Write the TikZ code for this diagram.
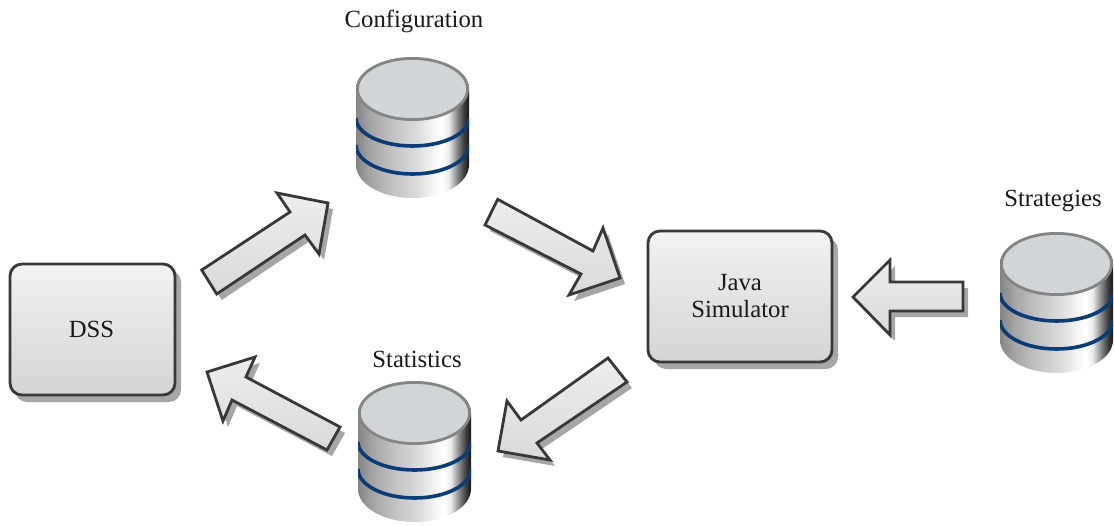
\documentclass[tikz,border=0pt]{standalone}
\usepackage{fontspec}
\setmainfont{Liberation Serif}
\usetikzlibrary{calc}
\definecolor{bandblue}{HTML}{0A3D78}
\definecolor{captop}{HTML}{D3D4D6}
\pgfdeclareverticalshading{boxshade}{100bp}{color(0bp)=(black!17);color(25bp)=(black!17);color(75bp)=(black!5);color(100bp)=(black!5)}
\pgfdeclareverticalshading{arrowshade}{100bp}{color(0bp)=(black!15);color(25bp)=(black!15);color(75bp)=(black!7);color(100bp)=(black!7)}
\pgfdeclarehorizontalshading{cylshade}{100bp}{
 color(0bp)=(black!48);color(25bp)=(black!48);color(31bp)=(black!36);color(40bp)=(black!25);color(52bp)=(black!14);
 color(60bp)=(black!3);color(63bp)=(white);color(66bp)=(black!8);color(70bp)=(black!50);color(73bp)=(black!78);color(75bp)=(black!90);color(100bp)=(black!90)}
\tikzset{
 x=1pt,y=-1pt,
 boxstyle/.style={draw=black!78,line width=2.8pt,rounded corners=12pt,shading=boxshade},
 boxshadow/.style={fill=black!35,draw=none,rounded corners=12pt},
 arrowbody/.style={draw=black!78,line width=2.8pt,line join=miter,shading=arrowshade},
 arrowshadow/.style={fill=black!35,draw=none},
 label/.style={font=\fontsize{24.7}{27}\selectfont,inner sep=0pt,align=center,text=black!90},
 band/.style={draw=bandblue,line width=3.6pt},
}
\newcommand{\dbcyl}[3]{%
 \begin{scope}[shift={(#1,#2)}]
  \path[shading=cylshade] (-56.5,0) arc[start angle=180,end angle=360,x radius=56.5,y radius=32]
     -- (56.5,76) arc[start angle=0,end angle=180,x radius=56.5,y radius=33] -- cycle;
  \begin{scope}
   \clip (-56.5,0) rectangle (56.5,120);
   \draw[band] (-56.5,29) arc[start angle=180,end angle=0,x radius=56.5,y radius=28];
   \draw[band] (-56.5,56) arc[start angle=180,end angle=0,x radius=56.5,y radius=29];
  \end{scope}
  \draw[draw=black!48,fill=captop,line width=2.8pt] (0,0) ellipse[x radius=55.1,y radius=30.6];
  \node[inner sep=0pt] (#3) at (0,0) {};
 \end{scope}}
\newcommand{\blockarrow}[2]{%
 \path[arrowshadow,shift={(5,6)}] #2 -- cycle;
 \path[arrowbody] #2 -- cycle;
 \coordinate (#1) at (0,0);}
\begin{document}
\begin{tikzpicture}
\useasboundingbox (0,0) rectangle (1114,525);
% boxes
\path[boxshadow] (15,270) rectangle (181,402);
\path[boxstyle] (10,264) rectangle (175,395);
\node[label] (dss) at (91.5,329) {DSS};
\path[boxshadow] (654,238) rectangle (838,369);
\path[boxstyle] (648,231) rectangle (832,362);
\node[label] (java) at (740,296) {Java\\[0pt]Simulator};
% cylinders
\dbcyl{412.5}{89}{cfg}
\dbcyl{414.5}{413}{stat}
\dbcyl{1056.5}{264}{strat}
% labels
\node[label] (cfgl) at (414,21) {Configuration};
\node[label] (statl) at (417,359) {Statistics};
\node[label] (stratl) at (1053,201) {Strategies};
% arrows
\blockarrow{a1}{(201.7,270)--(290,212)--(277,193)--(328,203)--(319,254)--(305,235)--(216.7,294)}
\blockarrow{a2}{(497.7,199.3)--(593,251)--(603,228)--(620,278)--(569,295)--(581,274)--(485,225)}
\blockarrow{a3}{(608,358)--(521,420)--(507,401)--(498,451)--(550,460)--(537,443)--(627,382)}
\blockarrow{a4}{(340,427)--(327,450)--(232,400)--(223,421)--(207,372)--(255,357)--(246,377)}
\blockarrow{a5}{(963,282)--(963,311)--(890,311)--(890,335)--(853,297)--(890,260)--(890,282)}
\end{tikzpicture}
\end{document}
